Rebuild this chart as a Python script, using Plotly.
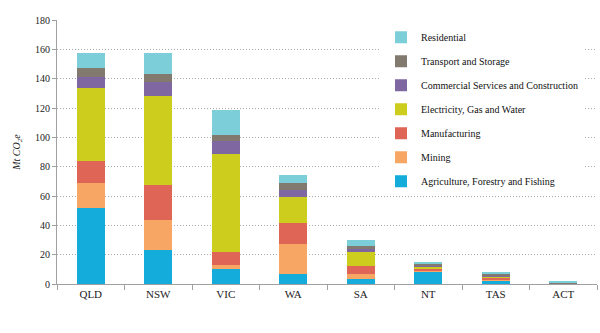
import plotly.graph_objects as go

states = ["QLD", "NSW", "VIC", "WA", "SA", "NT", "TAS", "ACT"]

agriculture = [52.0, 23.0, 10.0, 6.5, 3.4, 8.3, 2.5, 0.1]
mining = [17.0, 20.5, 2.7, 20.5, 3.6, 1.0, 0.4, 0.0]
manufacturing = [15.0, 24.0, 9.0, 14.5, 5.3, 1.1, 1.6, 0.1]
electricity = [49.5, 60.5, 67.0, 18.0, 9.5, 1.6, 0.5, 0.0]
commercial = [7.5, 9.5, 8.5, 4.5, 2.0, 0.4, 0.6, 0.4]
transport = [6.3, 5.5, 4.5, 5.0, 1.8, 1.8, 1.2, 0.7]
residential = [10.5, 14.5, 17.0, 5.5, 4.5, 0.5, 1.4, 0.5]

series = [
    ("Agriculture, Forestry and Fishing", agriculture, "#14ADDB"),
    ("Mining", mining, "#F7A763"),
    ("Manufacturing", manufacturing, "#DF6556"),
    ("Electricity, Gas and Water", electricity, "#CCCD1C"),
    ("Commercial Services and Construction", commercial, "#7F67A2"),
    ("Transport and Storage", transport, "#827A6F"),
    ("Residential", residential, "#7CCED9"),
]

serif = "'Liberation Serif', 'Times New Roman', Times, serif"

fig = go.Figure()
n = len(series)
for i, (name, vals, color) in enumerate(series):
    fig.add_trace(go.Bar(
        x=states, y=vals, name=name, marker_color=color,
        marker_line_width=0, legendgroup="g%d" % i,
        legendrank=n - i,
    ))

fig.update_layout(
    barmode="stack",
    bargap=0.58,
    width=600, height=333,
    margin=dict(l=57, r=3, t=20, b=49),
    paper_bgcolor="white",
    plot_bgcolor="white",
    font=dict(family=serif, size=11, color="#222222"),
    legend=dict(
        x=0.60, y=0.99, xanchor="left", yanchor="top",
        bgcolor="white",
        traceorder="grouped",
        tracegroupgap=5,
        font=dict(family=serif, size=10, color="#111111"),
        itemwidth=30,
    ),
    showlegend=True,
)

fig.update_xaxes(
    showline=True, linecolor="#A0A0A0", linewidth=1,
    ticks="outside", tickson="boundaries", ticklen=5, tickcolor="#A0A0A0",
    showgrid=False,
    tickfont=dict(family=serif, size=11, color="#222222"),
)
fig.update_yaxes(
    range=[0, 180], dtick=20,
    showline=True, linecolor="#A0A0A0", linewidth=1,
    ticks="outside", ticklen=4, tickcolor="#A0A0A0",
    showgrid=True, gridcolor="#A8A8A8", griddash="1px,2px", gridwidth=1,
    zeroline=False,
    tickfont=dict(family=serif, size=10, color="#222222"),
    title=dict(text="<i>Mt CO<sub>2</sub>e</i>", font=dict(family=serif, size=10, color="#222222"), standoff=12),
)

fig.write_html("out.html")
